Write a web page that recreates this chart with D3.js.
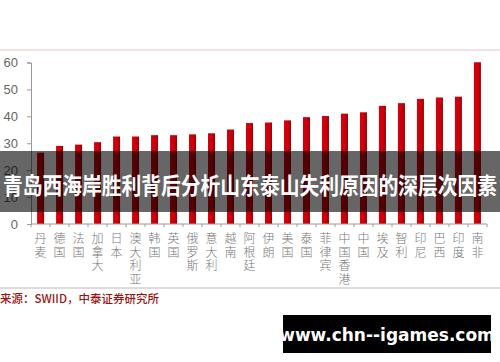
<!DOCTYPE html>
<html>
<head>
<meta charset="utf-8">
<script src="https://cdn.jsdelivr.net/npm/d3@7"></script>
<style>
  body { margin: 0; background: #fff; }
  svg { display: block; }
</style>
</head>
<body>
<svg id="chart" width="500" height="362"></svg>
<script>
// Countries (vertical labels) and their Gini values
var countries = ["丹麦","德国","法国","加拿大","日本","澳大利亚","韩国","英国","俄罗斯","意大利","越南","阿根廷",
                 "伊朗","美国","泰国","菲律宾","中国香港","中国","埃及","智利","印尼","巴西","印度","南非"];
var gini = [26.5, 29.0, 29.5, 30.4, 32.5, 32.5, 33.0, 33.0, 33.3, 33.7, 35.1, 37.5,
            37.7, 38.5, 39.7, 40.1, 41.0, 41.5, 43.9, 44.9, 46.5, 47.0, 47.3, 60.1];
var yTicks = [0, 10, 20, 30, 40, 50, 60];

var title = "青岛西海岸胜利背后分析山东泰山失利原因的深层次因素";
var source = "来源：SWIID，中泰证券研究所";
var site = "www.chn--igames.com";

var svg = d3.select("#chart");

var x = d3.scaleBand().domain(countries).range([31, 487]).paddingInner(0.63).paddingOuter(0.32);
var y = d3.scaleLinear().domain([0, 60]).range([224, 62.5]);

// bar gradient: bright on the left, darker right edge
var defs = svg.append("defs");
var grad = defs.append("linearGradient").attr("id", "barGrad").attr("x1", "0").attr("x2", "1");
grad.append("stop").attr("offset", "0%").attr("stop-color", "#d8000c");
grad.append("stop").attr("offset", "60%").attr("stop-color", "#c8000a");
grad.append("stop").attr("offset", "100%").attr("stop-color", "#9a0008");

// top and bottom frame lines
svg.append("line").attr("x1", 0).attr("x2", 500).attr("y1", 50).attr("y2", 50)
  .attr("stroke", "#e3c6c8").attr("stroke-width", 1);
svg.append("line").attr("x1", 0).attr("x2", 500).attr("y1", 288).attr("y2", 288)
  .attr("stroke", "#d9cccc").attr("stroke-width", 1.5);

// y axis
var yAxis = svg.append("g").attr("transform", "translate(31,0)")
  .call(d3.axisLeft(y).tickValues(yTicks).tickSize(4).tickPadding(9));
yAxis.select(".domain").attr("stroke", "#999");
yAxis.selectAll(".tick line").attr("stroke", "#999");
yAxis.selectAll(".tick text").attr("fill", "#666").style("font-family", "Liberation Sans, Arial, sans-serif").style("font-size", "13px");

// bars
svg.append("g").selectAll("rect").data(gini).join("rect")
  .attr("x", function(d, i) { return x(countries[i]); })
  .attr("width", x.bandwidth())
  .attr("y", function(d) { return y(d); })
  .attr("height", function(d) { return y(0) - y(d); })
  .attr("fill", "url(#barGrad)");

// x axis line with ticks between categories
var xa = svg.append("g");
xa.append("line").attr("x1", 31).attr("x2", 487).attr("y1", 224).attr("y2", 224).attr("stroke", "#999");
xa.selectAll("line.tk").data(d3.range(countries.length + 1)).join("line").attr("class", "tk")
  .attr("x1", function(i) { return 31 + i * (456 / countries.length); })
  .attr("x2", function(i) { return 31 + i * (456 / countries.length); })
  .attr("y1", 224).attr("y2", 227).attr("stroke", "#999");

// vertical category labels
var lab = svg.append("g").selectAll("text").data(countries).join("text")
  .attr("text-anchor", "middle")
  .attr("fill", "#777")
  .style("font-family", "Noto Sans CJK SC, sans-serif")
  .style("font-weight", "300")
  .style("font-size", "12px");
lab.each(function(name) {
  var t = d3.select(this);
  var cx = x(name) + x.bandwidth() / 2;
  name.split("").forEach(function(ch, k) {
    t.append("tspan").attr("x", cx).attr("y", 243 + k * 13.5).text(ch);
  });
});

// source note
svg.append("text").attr("x", 0).attr("y", 303)
  .attr("fill", "#9a1414")
  .style("font-family", "Noto Sans CJK SC, sans-serif")
  .style("font-weight", "500")
  .style("font-size", "11.5px")
  .text(source);

// overlay title band
svg.append("rect").attr("x", 0).attr("y", 151).attr("width", 500).attr("height", 61)
  .attr("fill", "rgba(0,0,0,0.6)");
svg.append("text").attr("x", 250).attr("y", 194)
  .attr("text-anchor", "middle")
  .attr("fill", "#fff")
  .attr("textLength", 494)
  .attr("lengthAdjust", "spacingAndGlyphs")
  .style("font-family", "Noto Sans CJK SC, sans-serif")
  .style("font-weight", "700")
  .style("font-size", "23px")
  .text(title);

// watermark box
svg.append("rect").attr("x", 283).attr("y", 315).attr("width", 208).attr("height", 38).attr("fill", "#000");
svg.append("text").attr("x", 387).attr("y", 341)
  .attr("text-anchor", "middle")
  .attr("fill", "#fff")
  .style("font-family", "DejaVu Sans, sans-serif")
  .style("font-weight", "700")
  .style("font-size", "17px")
  .text(site);
</script>
</body>
</html>
